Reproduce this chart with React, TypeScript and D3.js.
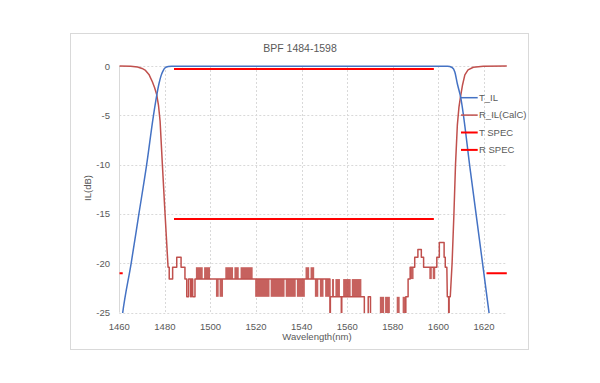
import React from "react";
import * as d3 from "d3";

type P = [number, number];

const TITLE = "BPF 1484-1598";
const X_TICKS = [1460, 1480, 1500, 1520, 1540, 1560, 1580, 1600, 1620];
const Y_TICKS = [0, -5, -10, -15, -20, -25];

const T_IL: P[] = [
  [1460, -27.8], [1461.5, -25], [1465.2, -20], [1468.6, -15], [1472, -10], [1475, -5],
  [1476.4, -3], [1477.4, -1.8], [1478.3, -1], [1479.2, -0.5], [1480, -0.2], [1481.5, -0.05],
  [1483, -0.02], [1540, -0.02], [1604, -0.03], [1606, -0.15], [1607.2, -0.6], [1608.3, -1.8],
  [1609.7, -3.1], [1614, -10.6], [1618, -17.6], [1622.2, -25], [1623, -26.4],
];

const R_IL: P[] = [
  [1460, 0], [1465, -0.02], [1468, -0.1], [1470, -0.25], [1471.5, -0.45], [1473, -0.85],
  [1474.5, -1.6], [1475.5, -2.2], [1476.4, -2.9], [1477.2, -4.0], [1477.9, -5.6],
  [1478.9, -10], [1480, -14.7], [1481.1, -19.2], [1481.4, -20.4],
  [1481.9, -20.4], [1481.9, -21.6], [1483.4, -21.6], [1483.4, -20.4], [1485.2, -20.4],
  [1485.2, -19.4], [1487.1, -19.4], [1487.1, -20.4], [1488.8, -20.4], [1488.8, -21.6],
  [1489.6, -21.6], [1489.6, -23.4], [1490.4, -23.4], [1490.4, -21.6],
  [1491.3, -21.6], [1491.3, -23.4], [1491.6, -23.4], [1491.6, -21.6],
  [1492.2, -21.6], [1492.2, -23.4], [1493.2, -23.4], [1493.2, -21.6],
  [1552.4, -21.6], [1552.4, -26.4], [1552.6, -26.4], [1552.6, -23.4],
  [1557.4, -23.4], [1557.4, -26.4], [1557.6, -26.4], [1557.6, -23.4],
  [1567.5, -23.4], [1567.5, -26.4],
  [1569.2, -26.4], [1569.2, -23.4], [1570.2, -23.4], [1570.2, -26.4],
  [1585.7, -26.4], [1585.7, -23.4], [1586.7, -23.4], [1586.7, -21.6], [1587.6, -21.6],
  [1587.6, -20.4], [1589.6, -20.4], [1589.6, -19.4], [1591, -19.4], [1591, -18.6],
  [1592.5, -18.6], [1592.5, -19.4], [1593.5, -19.4], [1593.5, -20.4], [1599.3, -20.4],
  [1599.3, -19.4], [1600.4, -19.4], [1600.4, -17.9], [1602.5, -17.9], [1602.5, -19.4],
  [1603, -19.4], [1603, -20.4], [1603.7, -20.4], [1603.9, -23.4], [1604.5, -23.4],
  [1604.5, -26.4], [1604.7, -26.4], [1604.7, -23.4], [1605.2, -23.4],
  [1606, -20], [1606.8, -15], [1607.5, -10], [1608.3, -6], [1609, -4.2], [1609.7, -3.1],
  [1610.6, -1.9], [1611.6, -0.9], [1613, -0.4], [1615.3, -0.13], [1619.7, -0.02], [1630, 0],
];

// dense toggling regions of R_IL: [start, end, upper dB, lower dB]
const R_IL_DENSE: [number, number, number, number][] = [
  [1493.6, 1496.6, -20.4, -21.6], [1497.2, 1499.8, -20.4, -21.6],
  [1502.4, 1503.6, -21.6, -23.4], [1504.0, 1505.5, -21.6, -23.4],
  [1506.5, 1509.9, -20.4, -21.6], [1510.5, 1512.4, -20.4, -21.6], [1513.2, 1518.5, -20.4, -21.6],
  [1519.6, 1525.9, -21.6, -23.4], [1526.4, 1532.5, -21.6, -23.4],
  [1533.0, 1537.4, -21.6, -23.4], [1537.9, 1541.4, -21.6, -23.4],
  [1541.7, 1543.3, -20.4, -21.6], [1543.9, 1545.5, -20.4, -21.6],
  [1545.8, 1547.3, -21.6, -23.4], [1548.0, 1549.6, -21.6, -23.4], [1550.3, 1552.2, -21.6, -23.4],
  [1553.3, 1554.2, -21.6, -23.4], [1554.8, 1556.8, -21.6, -23.4],
  [1558.2, 1561.5, -21.6, -23.4], [1562.0, 1566.2, -21.6, -23.4],
  [1574.3, 1576.2, -23.4, -26.4], [1576.6, 1578.7, -23.4, -26.4],
  [1581.7, 1583.0, -23.4, -26.4], [1584.3, 1585.7, -23.4, -26.4],
  [1587.6, 1589.1, -20.4, -21.6],
  [1596.0, 1597.1, -20.4, -21.6], [1597.5, 1598.6, -20.4, -21.6],
];

const T_SPEC: P[][] = [
  [[1484, -0.3], [1598, -0.3]],
  [[1460, -21], [1461.5, -21]],
  [[1621.1, -21], [1630, -21]],
];
const R_SPEC: P[] = [[1484, -15.5], [1598, -15.5]];

const LEGEND = [
  { name: "T_IL", color: "#4472c4", w: 1.5 },
  { name: "R_IL(CalC)", color: "#c0504d", w: 1.5 },
  { name: "T SPEC", color: "#ff0000", w: 2 },
  { name: "R SPEC", color: "#ff0000", w: 2 },
];

const FONT = "'Liberation Sans', Arial, sans-serif";
const TXT = "#595959";

export default function App() {
  const x = d3.scaleLinear().domain([1460, 1630]).range([119.3, 506.8]);
  const y = d3.scaleLinear().domain([-25, 0]).range([312.6, 66]);
  const line = d3.line<P>().x((d) => x(d[0])).y((d) => y(d[1]));
  const smooth = d3.line<P>().x((d) => x(d[0])).y((d) => y(d[1])).curve(d3.curveMonotoneX);

  const gridX = X_TICKS.filter((t) => t !== 1460);

  return (
    <svg width={600} height={383} style={{ position: "absolute", left: 0, top: 0, background: "#fff" }} fontFamily={FONT}>
      <defs>
        <clipPath id="plotClip">
          <rect x={x(1460)} y={y(0) - 3} width={x(1630) - x(1460) + 3} height={y(-25) - y(0) + 3.5} />
        </clipPath>
      </defs>
      <rect x={0} y={0} width={600} height={383} fill="#fff" />
      <rect x={70.5} y={33.5} width={458} height={316} fill="none" stroke="#d9d9d9" strokeWidth={1} />

      <text x={300} y={52} textAnchor="middle" fontSize={10.5} fill={TXT}>{TITLE}</text>

      {Y_TICKS.map((t) => (
        <line key={"gy" + t} x1={x(1460)} x2={x(1630)} y1={Math.round(y(t)) + 0.5} y2={Math.round(y(t)) + 0.5}
          stroke="#d9d9d9" strokeWidth={1} strokeDasharray="2,2" />
      ))}
      {gridX.map((t) => (
        <line key={"gx" + t} x1={Math.round(x(t)) + 0.5} x2={Math.round(x(t)) + 0.5} y1={y(0)} y2={y(-25)}
          stroke="#d9d9d9" strokeWidth={1} strokeDasharray="2,2" />
      ))}
      <line x1={Math.round(x(1460)) + 0.5} x2={Math.round(x(1460)) + 0.5} y1={y(0)} y2={y(-25)} stroke="#d9d9d9" strokeWidth={1} />

      {Y_TICKS.map((t) => (
        <text key={"ty" + t} x={110} y={y(t) + 3.5} textAnchor="end" fontSize={9.5} fill={TXT}>{t}</text>
      ))}
      {X_TICKS.map((t) => (
        <text key={"tx" + t} x={x(t)} y={329.5} textAnchor="middle" fontSize={9.5} fill={TXT}>{t}</text>
      ))}
      <text x={317} y={339.5} textAnchor="middle" fontSize={9.5} fill={TXT}>Wavelength(nm)</text>
      <text transform="translate(91,188) rotate(-90)" textAnchor="middle" fontSize={9.5} fill={TXT}>IL(dB)</text>

      <g clipPath="url(#plotClip)">
        {R_IL_DENSE.map((b, i) => (
          <rect key={"rb" + i} x={x(b[0])} width={x(b[1]) - x(b[0])} y={y(b[2])} height={y(b[3]) - y(b[2])}
            fill="#c0504d" fillOpacity={0.9} />
        ))}
        <path d={line(R_IL) || ""} fill="none" stroke="#c0504d" strokeWidth={1.5} strokeLinejoin="round" />
        <path d={smooth(T_IL) || ""} fill="none" stroke="#4472c4" strokeWidth={1.5} />
        {T_SPEC.map((seg, i) => (
          <path key={"ts" + i} d={line(seg) || ""} fill="none" stroke="#ff0000" strokeWidth={2} />
        ))}
        <path d={line(R_SPEC) || ""} fill="none" stroke="#ff0000" strokeWidth={2} />
      </g>

      {LEGEND.map((l, i) => {
        const ly = 97.7 + i * 17.4;
        return (
          <g key={l.name}>
            <line x1={461} x2={477.7} y1={ly} y2={ly} stroke={l.color} strokeWidth={l.w} />
            <text x={479} y={ly + 3.3} fontSize={9.5} fill={TXT}>{l.name}</text>
          </g>
        );
      })}
    </svg>
  );
}
